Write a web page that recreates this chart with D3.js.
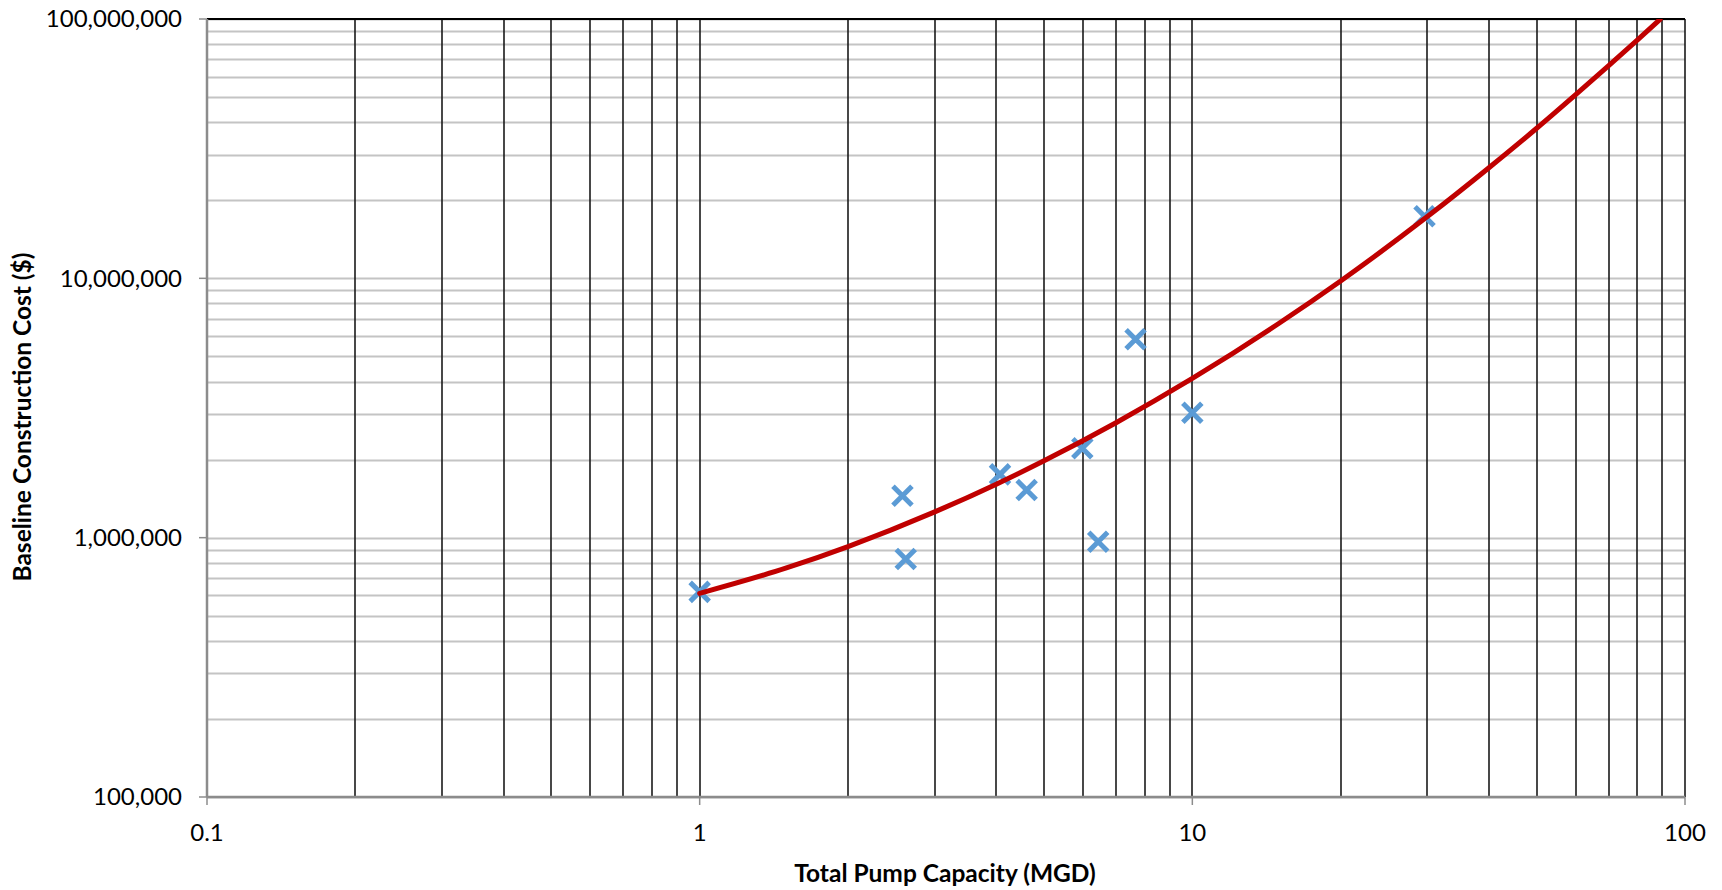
<!DOCTYPE html>
<head>
    <meta charset="utf-8">
    <title>Pump Station Cost</title>
    <style>
        body { margin: 0; background: #fff; }
        .tick-label { font: 24px Lato, "Open Sans", sans-serif; fill: #000; }
        .axis-title { font: bold 24.5px Lato, "Open Sans", sans-serif; fill: #000; }
    </style>
</head>
<body>
    <svg width="1722" height="890"></svg>
    <script src="https://d3js.org/d3.v7.min.js"></script>
    <script>

    // observed stations: capacity (MGD) and baseline cost ($)
    var capacity = [1.0, 2.58, 2.62, 4.07, 4.61, 5.98, 6.44, 7.67, 10.0, 29.6];
    var cost = [618000, 1452000, 827000, 1754000, 1526000, 2211000, 964000, 5820000, 3031000, 17340000];

    // trend curve
    var trendX = [1, 1.5, 2, 3, 4, 5, 7, 10, 15, 20, 30, 40, 50, 60, 70, 80, 89];
    var trendY = [610000, 764000, 924000, 1257000, 1608000, 1979000, 2775000, 4110000, 6710000,
                  9770000, 17300000, 26700000, 37900000, 51100000, 66100000, 82900000, 99700000];

    var xTicks = [0.1, 1, 10, 100];
    var yTicks = [100000, 1000000, 10000000, 100000000];

    var svg = d3.select("svg"),
        margin = {top: 19, right: 37, bottom: 93, left: 207},
        width = +svg.attr("width") - margin.left - margin.right,
        height = +svg.attr("height") - margin.top - margin.bottom,
        g = svg.append("g").attr("transform", "translate(" + margin.left + "," + margin.top + ")");

    var x = d3.scaleLog().domain([0.1, 100]).range([0, width]);
    var y = d3.scaleLog().domain([100000, 100000000]).range([height, 0]);

    // every 1..9 step in each decade
    function steps(lo, hi) {
        var out = [];
        for (var p = lo; p < hi; p *= 10)
            for (var k = 1; k <= 9; k++) out.push(p * k);
        out.push(hi);
        return out;
    }

    // horizontal grid (grey)
    g.selectAll(".hgrid")
        .data(steps(100000, 100000000))
        .enter().append("line")
        .attr("x1", 0).attr("x2", width)
        .attr("y1", function(d) { return Math.round(y(d)) + 0.5; })
        .attr("y2", function(d) { return Math.round(y(d)) + 0.5; })
        .attr("stroke", "#c4c4c4")
        .attr("stroke-width", 2);

    // vertical grid (black)
    g.selectAll(".vgrid")
        .data(steps(0.1, 100).filter(function(d) { return d > 0.1; }))
        .enter().append("line")
        .attr("y1", 0).attr("y2", height)
        .attr("x1", function(d) { return Math.round(x(d)); })
        .attr("x2", function(d) { return Math.round(x(d)); })
        .attr("stroke", "#1a1a1a")
        .attr("stroke-width", 1.6);

    // top border
    g.append("line")
        .attr("x1", 0).attr("x2", width)
        .attr("y1", 0).attr("y2", 0)
        .attr("stroke", "#000").attr("stroke-width", 2);

    // axes
    g.append("line")
        .attr("x1", 0).attr("x2", width)
        .attr("y1", height).attr("y2", height)
        .attr("stroke", "#8c8c8c").attr("stroke-width", 2.5);
    g.append("line")
        .attr("x1", 0).attr("x2", 0)
        .attr("y1", 0).attr("y2", height)
        .attr("stroke", "#8c8c8c").attr("stroke-width", 2.5);

    g.selectAll(".xtick")
        .data(xTicks)
        .enter().append("line")
        .attr("x1", function(d) { return x(d); }).attr("x2", function(d) { return x(d); })
        .attr("y1", height).attr("y2", height + 8)
        .attr("stroke", "#8c8c8c").attr("stroke-width", 1.5);
    g.selectAll(".ytick")
        .data(yTicks)
        .enter().append("line")
        .attr("y1", function(d) { return y(d); }).attr("y2", function(d) { return y(d); })
        .attr("x1", -8).attr("x2", 0)
        .attr("stroke", "#8c8c8c").attr("stroke-width", 1.5);

    var fmt = d3.format(",");

    g.selectAll(".xlabel")
        .data(xTicks)
        .enter().append("text")
        .attr("class", "tick-label")
        .attr("x", function(d) { return x(d); })
        .attr("y", height + 44)
        .attr("text-anchor", "middle")
        .text(function(d) { return d < 1 ? d : fmt(d); });

    g.selectAll(".ylabel")
        .data(yTicks)
        .enter().append("text")
        .attr("class", "tick-label")
        .attr("x", -25)
        .attr("y", function(d) { return y(d); })
        .attr("dy", "0.35em")
        .attr("text-anchor", "end")
        .text(function(d) { return fmt(d); });

    // titles
    svg.append("text")
        .attr("class", "axis-title")
        .attr("x", 945).attr("y", 882)
        .attr("text-anchor", "middle")
        .text("Total Pump Capacity (MGD)");
    svg.append("text")
        .attr("class", "axis-title")
        .attr("transform", "translate(31,417) rotate(-90)")
        .attr("text-anchor", "middle")
        .text("Baseline Construction Cost ($)");

    // markers
    var s = 9.5;
    g.selectAll(".pt")
        .data(d3.range(capacity.length))
        .enter().append("path")
        .attr("transform", function(i) { return "translate(" + x(capacity[i]) + "," + y(cost[i]) + ")"; })
        .attr("d", "M" + -s + "," + -s + "L" + s + "," + s + "M" + -s + "," + s + "L" + s + "," + -s)
        .attr("stroke", "#5b9bd5")
        .attr("stroke-width", 5)
        .attr("fill", "none");

    // trend curve, clipped at plot
    svg.append("clipPath").attr("id", "plot")
        .append("rect").attr("width", width).attr("height", height);

    var line = d3.line()
        .x(function(i) { return x(trendX[i]); })
        .y(function(i) { return y(trendY[i]); })
        .curve(d3.curveMonotoneX);

    g.append("path")
        .attr("clip-path", "url(#plot)")
        .attr("d", line(d3.range(trendX.length)))
        .attr("fill", "none")
        .attr("stroke", "#c00000")
        .attr("stroke-width", 5)
        .attr("stroke-linecap", "round");

    </script>
</body>
</html>
